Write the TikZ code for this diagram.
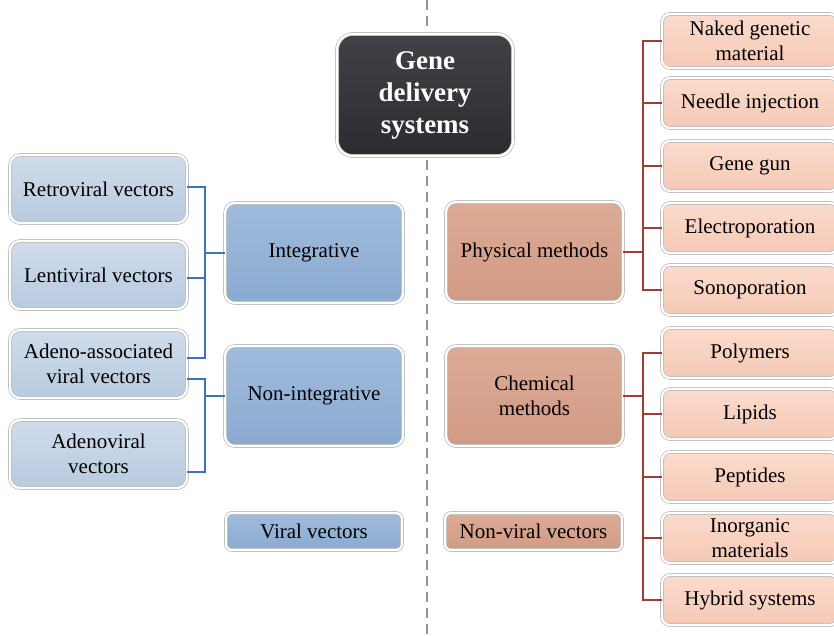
\documentclass[tikz,border=0pt]{standalone}
\usepackage{fontspec}
\setmainfont{Liberation Serif}
\usetikzlibrary{shadows}
\definecolor{lbA}{HTML}{D0DCEB}
\definecolor{lbB}{HTML}{B8CADF}
\definecolor{mbA}{HTML}{A0BCDD}
\definecolor{mbB}{HTML}{8AAAD0}
\definecolor{saA}{HTML}{DDAB97}
\definecolor{saB}{HTML}{D19A84}
\definecolor{peA}{HTML}{FBDBCC}
\definecolor{peB}{HTML}{F5C9B6}
\definecolor{dkA}{HTML}{414146}
\definecolor{dkB}{HTML}{2C2C30}
\definecolor{blueln}{HTML}{3D72C2}
\definecolor{redln}{HTML}{A33A33}
\tikzset{
  box/.style={rounded corners=10pt, draw=gray!55, double=white, double distance=2.2pt,
    line width=0.7pt, inner sep=0pt, align=center, font=\fontsize{21}{25}\selectfont,
    drop shadow={opacity=0.3, shadow xshift=1pt, shadow yshift=-1.5pt, fill=gray}},
  lblue/.style={box, top color=lbA, bottom color=lbB},
  mblue/.style={box, top color=mbA, bottom color=mbB},
  salmon/.style={box, top color=saA, bottom color=saB},
  peach/.style={box, top color=peA, bottom color=peB, rounded corners=8pt, minimum width=176pt, minimum height=50pt},
  titlebox/.style={box, top color=dkA, bottom color=dkB, rounded corners=16pt, text=white,
    font=\fontsize{27}{32}\selectfont\bfseries},
  bline/.style={blueln, line width=2pt},
  rline/.style={redln, line width=2pt},
}
\begin{document}
\begin{tikzpicture}[x=1pt,y=-1pt]
\useasboundingbox[fill=white] (0,0) rectangle (834,636);
\coordinate (dtop) at (427,0);
\coordinate (dbot) at (427,636);
\draw[gray!85, line width=1.2pt, dash pattern=on 10pt off 6pt] (dtop) -- (dbot);

\node[titlebox, minimum width=176pt, minimum height=122pt] (title) at (425,95) {Gene\\delivery\\systems};

% left column
\node[lblue, minimum width=177pt, minimum height=68pt] (retro) at (98.5,189) {Retroviral vectors};
\node[lblue, minimum width=177pt, minimum height=68pt] (lenti) at (98.5,275) {Lentiviral vectors};
\node[lblue, minimum width=177pt, minimum height=68pt] (adeno) at (98.5,364) {Adeno-associated\\viral vectors};
\node[lblue, minimum width=177pt, minimum height=68pt] (adv) at (98.5,454) {Adenoviral\\vectors};

\node[mblue, minimum width=178pt, minimum height=100pt] (integ) at (314,253) {Integrative};
\node[mblue, minimum width=178pt, minimum height=100pt] (noninteg) at (314,396) {Non-integrative};
\node[mblue, rounded corners=6pt, minimum width=176pt, minimum height=37pt] (viral) at (314,531.5) {Viral vectors};

% right side
\node[salmon, minimum width=177pt, minimum height=100pt] (phys) at (534.5,252) {Physical methods};
\node[salmon, minimum width=177pt, minimum height=100pt] (chem) at (534.5,396) {Chemical\\methods};
\node[salmon, rounded corners=6pt, minimum width=177pt, minimum height=37pt] (nonviral) at (533.5,531.5) {Non-viral vectors};

\node[peach, minimum height=54pt] (naked) at (750,41) {Naked genetic\\material};
\node[peach] (needle) at (750,103) {Needle injection};
\node[peach] (gun) at (750,166) {Gene gun};
\node[peach] (electro) at (750,228) {Electroporation};
\node[peach] (sono) at (750,290) {Sonoporation};
\node[peach] (poly) at (750,353) {Polymers};
\node[peach] (lipid) at (750,414) {Lipids};
\node[peach] (pept) at (750,477) {Peptides};
\node[peach] (inorg) at (750,538) {Inorganic\\materials};
\node[peach] (hybrid) at (750,600) {Hybrid systems};

% blue brackets
\coordinate (bx) at (205,0);
\draw[bline] ([yshift=2pt]retro.east) -- ([yshift=2pt]retro.east -| bx) -- ([yshift=6pt]adeno.east -| bx) -- ([yshift=6pt]adeno.east);
\draw[bline] ([yshift=-3pt]lenti.east) -- ([yshift=-3pt]lenti.east -| bx);
\draw[bline] (integ.west) -- (integ.west -| bx);
\draw[bline] ([yshift=-15pt]adeno.east) -- ([yshift=-15pt]adeno.east -| bx) -- ([yshift=-18pt]adv.east -| bx) -- ([yshift=-18pt]adv.east);
\draw[bline] (noninteg.west) -- (noninteg.west -| bx);

% red brackets
\coordinate (rx) at (643,0);
\draw[rline] (naked.west) -- (naked.west -| rx) -- (sono.west -| rx) -- (sono.west);
\foreach \n in {needle,gun,electro} \draw[rline] (\n.west) -- (\n.west -| rx);
\draw[rline] (phys.east) -- (phys.east -| rx);
\draw[rline] (poly.west) -- (poly.west -| rx) -- (hybrid.west -| rx) -- (hybrid.west);
\foreach \n in {lipid,pept,inorg} \draw[rline] (\n.west) -- (\n.west -| rx);
\draw[rline] (chem.east) -- (chem.east -| rx);
\end{tikzpicture}
\end{document}
